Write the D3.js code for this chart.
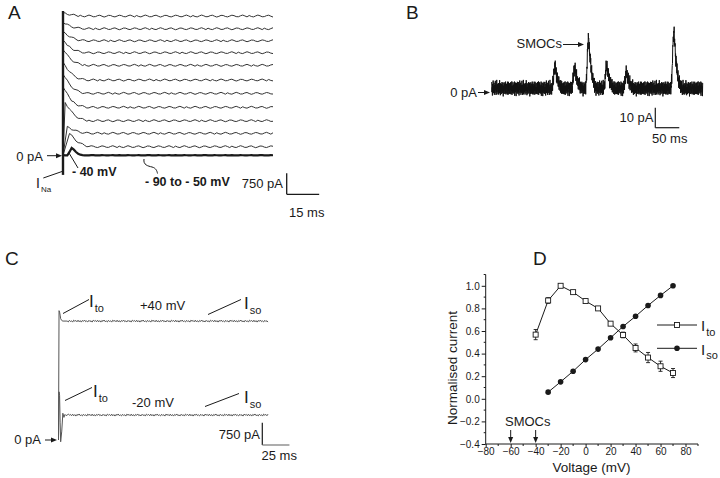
<!DOCTYPE html>
<html><head><meta charset="utf-8">
<script src="https://cdn.jsdelivr.net/npm/d3@7"></script>
<style>
html,body{margin:0;padding:0;background:#fff;}
svg{display:block;font-family:Arial,"Liberation Sans",sans-serif;}
</style></head>
<body><svg id="c" width="720" height="478"></svg>
<script>
// ---------------- DATA ----------------
// Panel A: steady currents (pA) of the step traces, -40 to +60 mV
const aVoltages = [-40,-30,-20,-10,0,10,20,30,40,50,60];
const aLevels = [307,785,1235,1714,2213,2688,3213,3663,4091,4520,4973];
const aPeaks = [470,250,650,720,680,640,560,450,330,220,120];   // transient (Ito) amplitude above steady, pA
const aPeakDelay = [3,2,1,0,0,0,0,0,0,0,0];                    // ms from step to transient peak
// shared normalised decay of the transient, 1 ms per sample
const aDecay = [1,0.82,0.64,0.48,0.35,0.25,0.17,0.11,0.07,0.04,0.02,0];
// hand-read wiggle of the traces (pA), 1 ms per sample
const aNoise = [20,-15,-30,5,35,10,-25,-20,15,30,-5,-35,-10,25,20,-15,-30,0,30,15,-20,-25,10,35,5,-30];
const aDuration = 97;          // ms
const aNaPeak = -700;          // inward sodium current, pA
const aSmallHump = [0,120,260,200,120,60,20,0]; // -50 mV transient on the base line

// Panel B: SMOCs
const bDuration = 440;         // ms
const bEvents = [               // [time ms, amplitude pA]
  [128,11.5],[169,10.5],[198,26],[236,12],[277,8],[376,29.5]
];
const bShape = [0.25,0.75,1,0.72,0.5,0.34,0.22,0.13,0.07,0.03,0]; // per 2 ms
const bNoise = [2.1,-1.6,0.4,-2.4,1.8,-0.6,2.6,-2.0,0.9,-1.2,2.3,-2.7,1.1,0.2,-1.9,2.5,-0.8,1.5,-2.2,0.6,
                -1.4,2.8,-2.5,1.2,-0.3,1.9,-1.7,0.8,-2.6,2.2,-0.9,1.4,-2.1,2.7,-1.1,0.5,-2.3];

// Panel C: +40 mV and -20 mV traces
const cDuration = 193;         // ms
const cLevels = [4000, 840];   // steady (pA)
const cStartTimes = [0,0.5,1,1.5,2,3,4,5,6,7,8];      // ms
const cStartTop = [0,4350,4300,4200,4080,4020,4000,4000,4000,4000,4000];
const cStartBottom = [0,1620,1500,600,-60,300,900,760,860,820,840];
const cNoise = [30,-25,15,-35,20,-10,35,-20,5,-30,25,-15,10,-35,30,-5,20,-25];

// Panel D: normalised I-V
const dVolt = [-40,-30,-20,-10,0,10,20,30,40,50,60,70];
const dIto = [0.568,0.87,1.0,0.944,0.865,0.80,0.665,0.565,0.45,0.365,0.288,0.228];
const dItoErr = [0.045,0.025,0,0.01,0.012,0.012,0.012,0.025,0.035,0.045,0.045,0.04];
const dVoltSo = [-30,-20,-10,0,10,20,30,40,50,60,70];
const dIso = [0.059,0.15,0.244,0.347,0.44,0.54,0.64,0.73,0.826,0.915,1.0];
const dXTicks = [-80,-60,-40,-20,0,20,40,60,80];
const dYTicks = [-0.4,-0.2,0.0,0.2,0.4,0.6,0.8,1.0];
const smocVolts = [-60,-40];

// ---------------- DRAW ----------------
const svg = d3.select("#c");
const ink = "#1a1a1a";

function label(x,y,t,opt={}){
  const e = svg.append("text").attr("x",x).attr("y",y).text(t)
    .attr("font-size",opt.size||13).attr("fill",opt.fill||ink)
    .attr("text-anchor",opt.anchor||"start");
  if(opt.bold) e.attr("font-weight","bold");
  return e;
}
function seg(x1,y1,x2,y2,w=1,c=ink){
  svg.append("line").attr("x1",x1).attr("y1",y1).attr("x2",x2).attr("y2",y2)
    .attr("stroke",c).attr("stroke-width",w);
}
function arrowRight(x1,x2,y,c=ink){
  seg(x1,y,x2-4,y,1,c);
  svg.append("path").attr("d",`M${x2},${y} L${x2-6},${y-2.5} L${x2-6},${y+2.5} Z`).attr("fill",c);
}
function arrowDown(x,y1,y2){
  seg(x,y1,x,y2-4,1);
  svg.append("path").attr("d",`M${x},${y2} L${x-2.5},${y2-6} L${x+2.5},${y2-6} Z`).attr("fill",ink);
}
function subLabel(x,y,main,sub,mainSize,subSize){
  const t = svg.append("text").attr("x",x).attr("y",y).attr("fill",ink).attr("font-size",mainSize);
  t.append("tspan").text(main);
  t.append("tspan").attr("font-size",subSize).attr("dy",mainSize*0.3).attr("dx",1).text(sub);
}

// Panel letters
label(8,19,"A",{size:19});
label(406,19,"B",{size:19});
label(5,265,"C",{size:19});
label(533,265,"D",{size:19});

// ===== Panel A =====
{
  const x = d3.scaleLinear().domain([0,aDuration]).range([63,273]);
  const y = d3.scaleLinear().domain([0,750]).range([155.3,134.3]);
  const line = d3.line().x(d=>x(d[0])).y(d=>y(d[1]));
  const base = [];
  for(let t=0;t<=aDuration;t++){
    const h = (t>=2 && t-2<aSmallHump.length) ? aSmallHump[t-2] : 0;
    base.push([t,h + aNoise[t%aNoise.length]*0.15]);
  }
  svg.append("path").attr("d",line(base)).attr("fill","none").attr("stroke",ink).attr("stroke-width",2.2);
  aLevels.forEach((lev,i)=>{
    const pts=[[0,0]];
    const dl=aPeakDelay[i];
    if(dl>0) pts.push([dl, lev+aPeaks[i]]);
    else pts[0]=[0,lev+aPeaks[i]];
    for(let t=dl+1;t<=aDuration;t++){
      const k=t-dl;
      const tr = k<aDecay.length ? aDecay[k]*aPeaks[i] : 0;
      const n = aNoise[(t+i*7)%aNoise.length];
      pts.push([t, lev+tr+n]);
    }
    svg.append("path").attr("d",line(pts)).attr("fill","none")
      .attr("stroke","#333").attr("stroke-width",1);
  });
  seg(x(0),y(aLevels[aLevels.length-1]+aPeaks[aPeaks.length-1]+60),x(0),y(aNaPeak),2.4);
  label(43,160.5,"0 pA",{anchor:"end"});
  arrowRight(47,62,155.7);
  label(72,176,"- 40 mV",{bold:true,size:12.5});
  seg(78,168,69,153,1);
  label(145,186,"- 90 to - 50 mV",{bold:true,size:12.5});
  svg.append("path").attr("d","M144,159 C143,165 148,166 152,167 C156,168 157,171 157.5,173.5")
    .attr("fill","none").attr("stroke",ink).attr("stroke-width",1);
  subLabel(36,188,"I","Na",14,8);
  seg(43.3,178,62,171.5,1);
  // scale bar
  seg(286.7,194.3-(y(0)-y(750)),286.7,194.3,1.3);
  seg(286.7,194.3,286.7+(x(15)-x(0)),194.3,1.3);
  label(283,188,"750 pA",{anchor:"end"});
  label(289,217,"15 ms");
}

// ===== Panel B =====
{
  const x = d3.scaleLinear().domain([0,bDuration]).range([491.7,702.7]);
  const y = d3.scaleLinear().domain([0,10]).range([88.3,68.3]);
  const pts=[];
  for(let t=0;t<=bDuration;t+=0.5){
    let v=0;
    bEvents.forEach(([et,a])=>{
      const k=(t-et)/2;
      if(k>=-1 && k<bShape.length-1){
        const i0=Math.floor(k+1), f=k+1-i0;
        const s0 = i0===0?0:bShape[i0-1], s1=bShape[Math.min(i0,bShape.length-1)];
        v+=a*(s0+(s1-s0)*f);
      }
    });
    const idx=Math.round(t*2);
    v += bNoise[idx%bNoise.length]*(idx%3===0?1.5:1.2);
    pts.push([t,v]);
  }
  svg.append("path").attr("d",d3.line().x(d=>x(d[0])).y(d=>y(d[1]))(pts))
    .attr("fill","none").attr("stroke","#111").attr("stroke-width",1);
  label(477,97,"0 pA",{anchor:"end"});
  arrowRight(478,490,92.5);
  label(562,48.3,"SMOCs",{anchor:"end"});
  arrowRight(563,584,44.5);
  seg(655.3,127.7-(y(0)-y(10)),655.3,127.7,1.2);
  seg(655.3,127.7,655.3+(x(50)-x(0)),127.7,1.2);
  label(653.5,121.7,"10 pA",{anchor:"end"});
  label(652,142.7,"50 ms");
}

// ===== Panel C =====
{
  const x = d3.scaleLinear().domain([0,cDuration]).range([58.5,268]);
  const y = d3.scaleLinear().domain([0,750]).range([440,417.7]);
  const line = d3.line().x(d=>x(d[0])).y(d=>y(d[1]));
  [cStartTop,cStartBottom].forEach((start,j)=>{
    const pts=[];
    cStartTimes.forEach((t,i)=>pts.push([t,start[i]]));
    for(let t=9;t<=cDuration;t++){
      pts.push([t,cLevels[j]+cNoise[(t+j*5)%cNoise.length]]);
    }
    svg.append("path").attr("d",line(pts)).attr("fill","none")
      .attr("stroke","#555").attr("stroke-width",1);
  });
  label(41,444,"0 pA",{anchor:"end"});
  arrowRight(45,57,440);
  subLabel(89,307,"I","to",17,11);
  seg(63,313.5,89,299.5,1);
  label(140,310,"+40 mV",{size:13});
  subLabel(244,309,"I","so",17,11);
  seg(208,314.5,241,299.5,1);
  subLabel(93,397,"I","to",17,11);
  seg(65,400.5,92,387.5,1);
  label(132,406.5,"-20 mV",{size:13});
  subLabel(244,403,"I","so",17,11);
  seg(205,406.5,239,393.5,1);
  seg(262.3,445-(y(0)-y(750)),262.3,445,1.2);
  seg(262.3,445,262.3+(x(25)-x(0)),445,1.2,"#777");
  label(260,439,"750 pA",{anchor:"end"});
  label(261.5,459.5,"25 ms");
}

// ===== Panel D =====
{
  const x = d3.scaleLinear().domain([-80,90]).range([485.7,698]);
  const y = d3.scaleLinear().domain([-0.4,1.1]).range([444,274.5]);
  const g = svg.append("g");
  const xAxis = d3.axisBottom(x).tickValues(dXTicks).tickSize(3).tickPadding(1).tickFormat(d3.format("d"));
  const yAxis = d3.axisLeft(y).tickValues(dYTicks).tickSize(4).tickPadding(2).tickFormat(d3.format(".1f"));
  const gx = g.append("g").attr("transform",`translate(0,${y(-0.4)})`).call(xAxis);
  const gy = g.append("g").attr("transform",`translate(${x(-80)},0)`).call(yAxis);
  [gx,gy].forEach(a=>{
    a.select(".domain").attr("stroke",ink);
    a.selectAll(".tick line").attr("stroke",ink);
    a.selectAll("text").attr("font-size",10).attr("fill",ink).attr("font-family","Arial, Liberation Sans, sans-serif");
  });
  gx.select(".domain").attr("d",`M${x(-80)},0H${x(90)}`);
  gy.select(".domain").attr("d",`M0,${y(-0.4)}V${y(1.1)}`);
  const minorX = d3.range(-70,91,20);
  g.append("g").selectAll("line").data(minorX).join("line")
    .attr("x1",d=>x(d)).attr("x2",d=>x(d)).attr("y1",y(-0.4)).attr("y2",y(-0.4)+2).attr("stroke",ink);
  const minorY = d3.range(-0.3,1.15,0.2);
  g.append("g").selectAll("line").data(minorY).join("line")
    .attr("y1",d=>y(d)).attr("y2",d=>y(d)).attr("x1",x(-80)).attr("x2",x(-80)-2).attr("stroke",ink);
  svg.append("text").attr("transform",`translate(457,368) rotate(-90)`).attr("text-anchor","middle")
    .attr("font-size",13.5).attr("fill",ink).text("Normalised current");
  svg.append("text").attr("x",591.5).attr("y",472).attr("text-anchor","middle")
    .attr("font-size",13.5).attr("fill",ink).text("Voltage (mV)");
  const lineIto = d3.line().x((d,i)=>x(dVolt[i])).y(d=>y(d));
  g.append("path").attr("d",lineIto(dIto)).attr("fill","none").attr("stroke",ink).attr("stroke-width",1);
  const errG = g.append("g").attr("stroke",ink).attr("stroke-width",0.9);
  dIto.forEach((v,i)=>{
    const e=dItoErr[i]; if(e<=0) return;
    const xx=x(dVolt[i]);
    errG.append("line").attr("x1",xx).attr("x2",xx).attr("y1",y(v+e)).attr("y2",y(v-e));
    errG.append("line").attr("x1",xx-2).attr("x2",xx+2).attr("y1",y(v+e)).attr("y2",y(v+e));
    errG.append("line").attr("x1",xx-2).attr("x2",xx+2).attr("y1",y(v-e)).attr("y2",y(v-e));
  });
  const lineIso = d3.line().x((d,i)=>x(dVoltSo[i])).y(d=>y(d));
  g.append("path").attr("d",lineIso(dIso)).attr("fill","none").attr("stroke",ink).attr("stroke-width",1);
  g.append("g").selectAll("rect").data(dIto).join("rect")
    .attr("x",(d,i)=>x(dVolt[i])-2.5).attr("y",d=>y(d)-2.5).attr("width",5).attr("height",5)
    .attr("fill","#fff").attr("stroke",ink).attr("stroke-width",0.9);
  g.append("g").selectAll("circle").data(dIso).join("circle")
    .attr("cx",(d,i)=>x(dVoltSo[i])).attr("cy",d=>y(d)).attr("r",2.8).attr("fill",ink);
  seg(657,325,697,325,1);
  svg.append("rect").attr("x",674.5).attr("y",322.5).attr("width",5).attr("height",5).attr("fill","#fff").attr("stroke",ink).attr("stroke-width",0.9);
  seg(657,348.3,697,348.3,1);
  svg.append("circle").attr("cx",677).attr("cy",348.3).attr("r",2.8).attr("fill",ink);
  subLabel(701,331,"I","to",15,11);
  subLabel(701,354.5,"I","so",15,11);
  label(505,425.7,"SMOCs",{size:13});
  smocVolts.forEach(v=>arrowDown(x(v),430,443));
}
</script></body></html>
